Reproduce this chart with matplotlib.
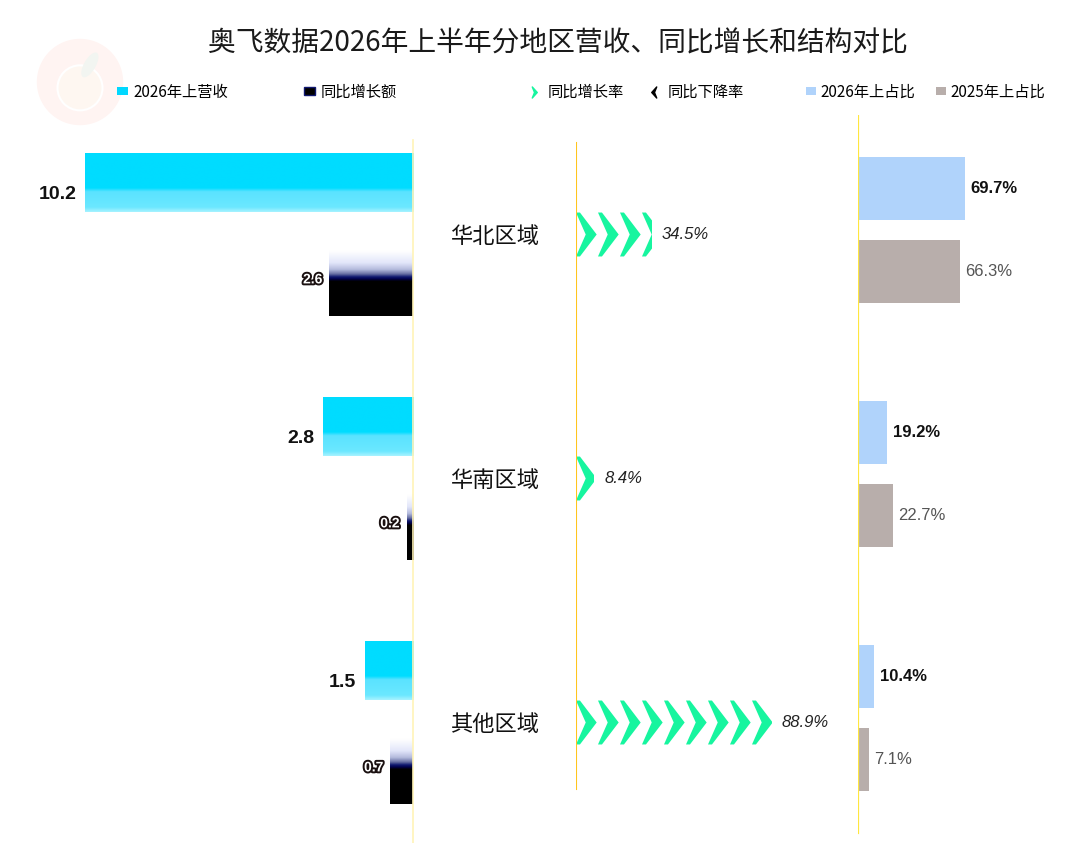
import numpy as np
import matplotlib
matplotlib.use('Agg')
import matplotlib.pyplot as plt
import matplotlib.patheffects as pe
import matplotlib.transforms as mtransforms
from matplotlib.colors import LinearSegmentedColormap
from matplotlib.patches import Patch, Polygon, Circle, Ellipse
from matplotlib.lines import Line2D
from matplotlib.path import Path

plt.rcParams['font.family'] = ['Noto Sans CJK SC', 'DejaVu Sans']

# --------------------------------------------
# dados
title = '奥飞数据2026年上半年分地区营收、同比增长和结构对比'
regions = ['华北区域', '华南区域', '其他区域']
revenue = [10.2, 2.8, 1.5]          # 2026年上营收
growth_amt = [2.6, 0.2, 0.7]        # 同比增长额
growth_rate = [34.5, 8.4, 88.9]     # 同比增长率 (%)
share_2026 = [69.7, 19.2, 10.4]     # 2026年上占比 (%)
share_2025 = [66.3, 22.7, 7.1]      # 2025年上占比 (%)
legend_left = ['2026年上营收', '同比增长额']
legend_mid = ['同比增长率', '同比下降率']
legend_right = ['2026年上占比', '2025年上占比']

NUM = ['Liberation Sans', 'DejaVu Sans']
GREEN = '#17F59F'

# --------------------------------------------
# figura e eixos
W, H = 1080, 843
fig = plt.figure(figsize=(W / 100, H / 100), dpi=100)


def px_axes(x0, x1, top=115, bottom=840):
    return fig.add_axes([x0 / W, (H - bottom) / H, (x1 - x0) / W, (bottom - top) / H])


ax_l = px_axes(0, 413)
ax_m = px_axes(576, 858)
ax_r = px_axes(858, 1080)
ylim = ((840 - 234.5) / 244, (115 - 234.5) / 244)
xlims = {ax_l: (413 / 32.16, 0), ax_m: (0, 282 / 2.2), ax_r: (0, 222 / 1.535)}


def reset_limits():
    for ax, xl in xlims.items():
        ax.set_xlim(*xl)
        ax.set_ylim(*ylim)


reset_limits()
for ax in (ax_l, ax_m, ax_r):
    ax.axis('off')

y = np.arange(len(regions))

# --------------------------------------------
# painel esquerdo: receita e aumento (barras com gradiente)
grad = np.linspace(0, 1, 256).reshape(-1, 1)
cmap_rev = LinearSegmentedColormap.from_list(
    'rev', [(0, '#00DCFF'), (0.6, '#00DCFF'), (0.66, '#5AE3FF'),
            (0.92, '#6BE8FF'), (1, '#A8F2FF')])
cmap_amt = LinearSegmentedColormap.from_list(
    'amt', [(0, '#FFFFFF'), (0.12, '#FFFFFF'), (0.28, '#E2E6FA'),
            (0.37, '#B4BBDD'), (0.43, '#6A72A4'), (0.47, '#101A70'),
            (0.5, '#00004A'), (0.53, '#000000'), (1, '#000000')])


def fill_gradient(ax, bars, cmap):
    for b in bars:
        x0, y0, w, h = b.get_x(), b.get_y(), b.get_width(), b.get_height()
        im = ax.imshow(grad, cmap=cmap, aspect='auto', origin='upper',
                       extent=[x0, x0 + w, y0 + h, y0], interpolation='bilinear',
                       zorder=2)
        im.set_clip_path(b)


y_rev = y - 0.213
y_amt = y + 0.184
bars_rev = ax_l.barh(y_rev, revenue, height=0.242, color='none', zorder=1)
bars_amt = ax_l.barh(y_amt, growth_amt, height=0.30, color='none', zorder=1)
fill_gradient(ax_l, bars_rev, cmap_rev)
fill_gradient(ax_l, bars_amt, cmap_amt)

for yi, v in zip(y_rev, revenue):
    ax_l.annotate(f'{v:.1f}', (v, yi + 0.05), xytext=(-6, 0), textcoords='offset points',
                  ha='right', va='center', fontsize=14, fontweight='bold',
                  family=NUM, color='#111111')
for yi, v in zip(y_amt, growth_amt):
    ax_l.annotate(f'{v:.1f}', (v, yi), xytext=(-5, 0), textcoords='offset points',
                  ha='right', va='center', fontsize=10, fontweight='bold',
                  family=NUM, color='white',
                  path_effects=[pe.withStroke(linewidth=2.8, foreground='#1A1010')])

ax_l.axvline(0, ymin=-0.005, ymax=0.966, color='#FFF3B8', lw=1.2, clip_on=False,
             zorder=3)

# --------------------------------------------
# painel central: taxa de crescimento em setas
ch_w, ch_h, notch, flat = 9.4, 0.18, 0.47, 1.8
for yi, v in zip(y, growth_rate):
    clip = ax_m.barh(yi, v, height=ch_h + 0.02, color='none')[0]
    for k in range(int(np.ceil(v / 10))):
        x0 = k * 10
        poly = Polygon([(x0, yi - ch_h / 2), (x0 + flat, yi - ch_h / 2), (x0 + ch_w, yi),
                        (x0 + flat, yi + ch_h / 2), (x0, yi + ch_h / 2),
                        (x0 + ch_w * notch, yi)],
                       closed=True, fc=GREEN, ec='none', zorder=2)
        ax_m.add_patch(poly)
        poly.set_clip_path(clip)
    ax_m.annotate(f'{v:.1f}%', (v, yi), xytext=(7, 0), textcoords='offset points',
                  ha='left', va='center', fontsize=12, style='italic',
                  family=NUM, color='#222222')

lbl_tr = mtransforms.blended_transform_factory(ax_m.transAxes, ax_m.transData)
for yi, name in zip(y, regions):
    ax_m.text(-0.288, yi + 0.01, name, transform=lbl_tr, ha='center', va='center',
              fontsize=16, color='#111111', clip_on=False)

ax_m.axvline(0, ymin=0.07, ymax=0.961, color='#FFC51E', lw=1.5, zorder=3)

# --------------------------------------------
# painel direito: estrutura (participacao)
b26 = ax_r.barh(y - 0.189, share_2026, height=0.258, color='#B0D3FB', zorder=1)
b25 = ax_r.barh(y + 0.152, share_2025, height=0.258, color='#B8AEAB', zorder=1)
for yi, v in zip(y - 0.189, share_2026):
    ax_r.annotate(f'{v:.1f}%', (v, yi), xytext=(4, 0), textcoords='offset points',
                  ha='left', va='center', fontsize=12, fontweight='bold',
                  family=NUM, color='#111111')
for yi, v in zip(y + 0.152, share_2025):
    ax_r.annotate(f'{v:.1f}%', (v, yi), xytext=(4, 0), textcoords='offset points',
                  ha='left', va='center', fontsize=12,
                  family=NUM, color='#555555')

ax_r.axvline(0, ymin=0.01, color='#FFE640', lw=1.6, zorder=3)

reset_limits()

# --------------------------------------------
# titulo e legendas
fig.text(558 / W, 1 - 43 / H, title, ha='center', va='center', fontsize=20,
         color='#1A1A1A')

chev = Path([(-0.4, 1), (0.5, 0), (-0.4, -1), (0, 0), (-0.4, 1)],
            [Path.MOVETO, Path.LINETO, Path.LINETO, Path.LINETO, Path.CLOSEPOLY])
chev_l = Path([(0.4, 1), (-0.5, 0), (0.4, -1), (0, 0), (0.4, 1)],
              [Path.MOVETO, Path.LINETO, Path.LINETO, Path.LINETO, Path.CLOSEPOLY])

leg_kw = dict(loc='center left', frameon=False, fontsize=11, handleheight=0.45,
              borderaxespad=0, borderpad=0, ncol=2)
fig.legend(handles=[Patch(fc='#00D8FF'), Patch(fc='black', ec='#101870')],
           labels=legend_left, bbox_to_anchor=(117 / W, 1 - 92 / H),
           handlelength=0.72, handletextpad=0.35, columnspacing=5.0, **leg_kw)
fig.legend(handles=[Line2D([], [], marker=chev, ms=8, color=GREEN, ls='none'),
                    Line2D([], [], marker=chev_l, ms=8, color='black', ls='none')],
           labels=legend_mid, bbox_to_anchor=(529 / W, 1 - 92 / H),
           handlelength=0.6, handletextpad=0.6, columnspacing=1.7, **leg_kw)
fig.legend(handles=[Patch(fc='#B0D3FB'), Patch(fc='#B8AEAB')],
           labels=legend_right, bbox_to_anchor=(806 / W, 1 - 92 / H),
           handlelength=0.65, handletextpad=0.28, columnspacing=1.4, **leg_kw)

# marca d'agua
axw = fig.add_axes([35 / W, 1 - 127 / H, 90 / W, 90 / H])
axw.set_xlim(-1, 1)
axw.set_ylim(-1, 1)
axw.axis('off')
axw.add_patch(Circle((0, 0), 0.96, fc='#FFF4F2', ec='none'))
axw.add_patch(Circle((0, -0.13), 0.5, fc='#FEF7F1', ec='white', lw=1.5))
axw.add_patch(Ellipse((0.22, 0.38), 0.26, 0.62, angle=-30, fc='#F2F5F1', ec='none'))

fig.savefig('out.png', dpi=100, facecolor='white')
